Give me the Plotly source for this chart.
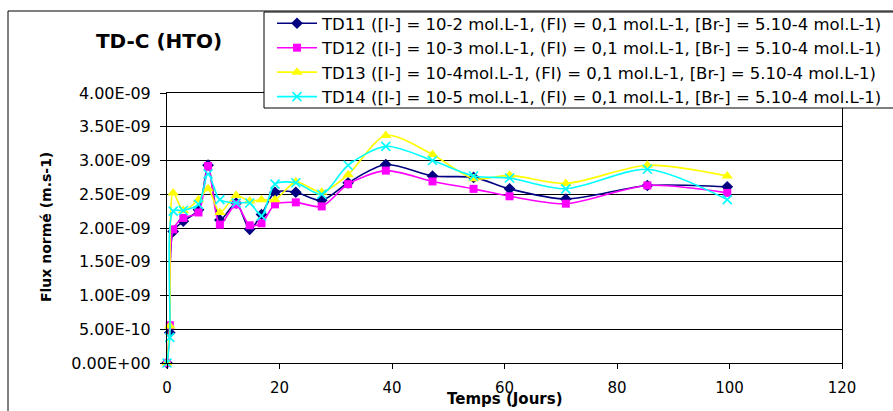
import plotly.graph_objects as go

# Time axis (days) shared by the four experiments
days = [0, 0.5, 1.1, 2.9, 5.6, 7.3, 9.4, 12.3, 14.7, 16.8, 19.2, 22.9,
        27.5, 32.2, 38.9, 47.2, 54.5, 60.9, 70.9, 85.4, 99.6]

# Normalised flux, in units of 1E-09 m.s-1
td11 = [0, 0.45, 1.95, 2.10, 2.27, 2.93, 2.12, 2.37, 1.98, 2.20, 2.53, 2.53,
        2.41, 2.67, 2.94, 2.77, 2.75, 2.58, 2.43, 2.63, 2.61]
td12 = [0, 0.56, 1.98, 2.15, 2.23, 2.92, 2.05, 2.35, 2.04, 2.07, 2.35, 2.38,
        2.32, 2.65, 2.85, 2.69, 2.58, 2.47, 2.36, 2.63, 2.52]
td13 = [0, 0.55, 2.52, 2.26, 2.42, 2.58, 2.23, 2.48, 2.40, 2.42, 2.42, 2.68,
        2.53, 2.79, 3.37, 3.09, 2.73, 2.78, 2.66, 2.93, 2.77]
td14 = [0, 0.38, 2.25, 2.26, 2.35, 2.80, 2.42, 2.37, 2.37, 2.18, 2.65, 2.67,
        2.50, 2.93, 3.21, 3.00, 2.77, 2.74, 2.58, 2.87, 2.42]

series_names = [
    "TD11 ([I-] = 10-2 mol.L-1, (FI) = 0,1 mol.L-1, [Br-] = 5.10-4 mol.L-1)",
    "TD12 ([I-] = 10-3 mol.L-1, (FI) = 0,1 mol.L-1, [Br-] = 5.10-4 mol.L-1)",
    "TD13 ([I-] = 10-4mol.L-1, (FI) = 0,1 mol.L-1, [Br-] = 5.10-4 mol.L-1)",
    "TD14 ([I-] = 10-5 mol.L-1, (FI) = 0,1 mol.L-1, [Br-] = 5.10-4 mol.L-1)",
]

y_ticks = [0, 0.5e-9, 1.0e-9, 1.5e-9, 2.0e-9, 2.5e-9, 3.0e-9, 3.5e-9, 4.0e-9]
y_tick_text = [f"{v:.2E}" for v in y_ticks]
x_ticks = [0, 20, 40, 60, 80, 100, 120]

W, H = 893, 411
L, R, T, B = 167, 51, 93, 48
PW, PH = W - L - R, H - T - B


def px_x(p):
    return (p - L) / PW


def px_y(p):
    return (H - B - p) / PH


FONT = "DejaVu Sans"

styles = [
    dict(color="#000080", symbol="diamond", size=9),
    dict(color="#FF00FF", symbol="square", size=8),
    dict(color="#FFFF00", symbol="triangle-up", size=10),
    dict(color="#00FFFF", symbol="x-thin-open", size=9),
]

fig = go.Figure()
for i, (vals, name, st) in enumerate(zip([td11, td12, td13, td14], series_names, styles)):
    marker = dict(symbol=st["symbol"], size=st["size"], color=st["color"])
    if st["symbol"].endswith("open"):
        marker["line"] = dict(color=st["color"], width=1.6)
    else:
        marker["line"] = dict(width=0)
    fig.add_trace(go.Scatter(
        x=days, y=[v * 1e-9 for v in vals], name=name,
        mode="lines+markers",
        line=dict(color=st["color"], width=1.6, shape="spline", smoothing=0.8),
        marker=marker, cliponaxis=False, legendgroup=f"g{i}",
    ))

LEG_ITEM_W = 40
fig.update_layout(
    width=W, height=H,
    margin=dict(l=L, r=R, t=T, b=B, pad=0, autoexpand=False),
    paper_bgcolor="white", plot_bgcolor="white",
    font=dict(family=FONT, size=15, color="black"),
    title=dict(text="<b>TD-C (HTO)</b>", x=159 / W, y=1 - 41 / H,
               xref="container", yref="container",
               xanchor="center", yanchor="middle",
               font=dict(family=FONT, size=20, color="black")),
    showlegend=True,
    legend=dict(x=px_x(322 - LEG_ITEM_W - 10), y=px_y(6),
                xanchor="left", yanchor="top",
                bgcolor="rgba(0,0,0,0)", borderwidth=0,
                font=dict(family=FONT, size=16.5, color="black"),
                tracegroupgap=0, itemwidth=LEG_ITEM_W, traceorder="normal"),
    xaxis=dict(range=[0, 120], tickvals=x_ticks, ticks="outside", ticklen=5,
               tickcolor="black", showgrid=False, zeroline=False,
               showline=True, linecolor="black", linewidth=1, mirror=True,
               ticklabelstandoff=6, tickfont=dict(family=FONT, size=15)),
    yaxis=dict(range=[0, 4e-9], tickvals=y_ticks, ticktext=y_tick_text,
               ticks="outside", ticklen=6, tickcolor="black",
               showgrid=True, gridcolor="black", gridwidth=1, zeroline=False,
               showline=True, linecolor="black", linewidth=1, mirror=True,
               ticklabelstandoff=6, tickfont=dict(family=FONT, size=16)),
    annotations=[
        dict(text="<b>Temps (Jours)</b>", xref="paper", yref="paper",
             x=px_x(505), y=px_y(399), xanchor="center", yanchor="middle",
             showarrow=False, font=dict(family=FONT, size=15, color="black")),
        dict(text="<b>Flux normé (m.s-1)</b>", xref="paper", yref="paper",
             x=px_x(46), y=px_y(227), xanchor="center", yanchor="middle",
             textangle=-90, showarrow=False,
             font=dict(family=FONT, size=14, color="black")),
    ],
    shapes=[
        # chart-area frame
        dict(type="rect", xref="paper", yref="paper",
             x0=px_x(8), x1=px_x(W + 20), y0=px_y(H + 20), y1=px_y(11),
             line=dict(color="black", width=1), fillcolor="rgba(0,0,0,0)",
             layer="below"),
        # legend box (runs past the right edge of the chart area)
        dict(type="rect", xref="paper", yref="paper",
             x0=px_x(264), x1=px_x(W + 20), y0=px_y(108), y1=px_y(12),
             line=dict(color="black", width=1), fillcolor="white",
             layer="above"),
    ],
)

fig.write_html("out.html")
